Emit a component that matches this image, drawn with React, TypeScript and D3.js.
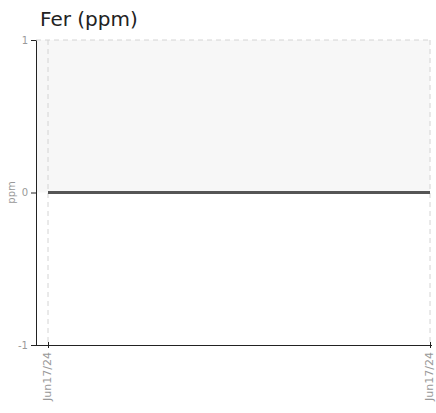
import { useEffect, useRef } from 'react'
import * as d3 from 'd3'

const dates = ['2024-06-17T08:00:00', '2024-06-17T16:00:00']
const values = [0, 0]
const yTicks = [-1, 0, 1]

export default function App() {
  const svgRef = useRef<SVGSVGElement>(null)

  useEffect(() => {
    if (!svgRef.current) return
    const W = 436
    const H = 413
    const margin = { top: 40, right: 4, bottom: 68, left: 36 }
    const svg = d3.select(svgRef.current)
    svg.selectAll('*').remove()
    svg.attr('width', W).attr('height', H)

    const parse = d3.timeParse('%Y-%m-%dT%H:%M:%S')
    const data = dates.map((d, i) => ({ date: parse(d)!, value: values[i] }))

    const x = d3.scaleTime()
      .domain(d3.extent(data, d => d.date) as [Date, Date])
      .range([margin.left + 12, 430])
    const y = d3.scaleLinear()
      .domain([-1, 1])
      .range([H - margin.bottom, margin.top])

    const x0 = margin.left
    const x1 = W - margin.right
    const fmt = d3.timeFormat('%b%d/%y')

    // shaded band above zero
    svg.append('rect')
      .attr('x', x0)
      .attr('y', y(1))
      .attr('width', x(data[1].date) - x0)
      .attr('height', y(0) - y(1))
      .attr('fill', '#f7f7f7')

    // grid
    const grid = svg.append('g')
      .attr('stroke', '#d4d4d4')
      .attr('stroke-dasharray', '5,4')
      .attr('stroke-width', 1)
    grid.append('line')
      .attr('x1', x0).attr('x2', x1)
      .attr('y1', y(1)).attr('y2', y(1))
    data.forEach(d => {
      grid.append('line')
        .attr('x1', x(d.date)).attr('x2', x(d.date))
        .attr('y1', y(1)).attr('y2', y(-1))
    })

    // line
    const line = d3.line<{ date: Date; value: number }>()
      .x(d => x(d.date))
      .y(d => y(d.value))
    svg.append('path')
      .datum(data)
      .attr('d', line)
      .attr('fill', 'none')
      .attr('stroke', '#555')
      .attr('stroke-width', 3)

    // y axis
    const yAxis = svg.append('g')
      .attr('transform', `translate(${x0},0)`)
      .call(d3.axisLeft(y).tickValues(yTicks).tickSize(5).tickSizeOuter(0).tickFormat(d => String(d)))
    yAxis.select('.domain').attr('stroke', '#222')
    yAxis.selectAll('.tick line').attr('stroke', '#222')
    yAxis.selectAll('text')
      .attr('fill', '#999')
      .attr('font-size', 10)
      .attr('font-family', 'DejaVu Sans')

    // x axis
    const xAxis = svg.append('g')
      .attr('transform', `translate(0,${y(-1)})`)
      .call(d3.axisBottom(x).tickValues(data.map(d => d.date)).tickSize(5).tickSizeOuter(0).tickFormat(d => fmt(d as Date)))
    xAxis.select('.domain')
      .attr('d', `M${x0},0.5H${x1}`)
      .attr('stroke', '#222')
    xAxis.selectAll('.tick line').attr('stroke', '#222').attr('y1', -3).attr('y2', 3)
    xAxis.selectAll('text')
      .attr('transform', 'rotate(-90)')
      .attr('text-anchor', 'end')
      .attr('x', -7)
      .attr('y', -1)
      .attr('dy', '0.35em')
      .attr('fill', '#999')
      .attr('font-size', 11)
      .attr('font-family', 'DejaVu Sans')

    // y label
    svg.append('text')
      .attr('transform', `translate(15,${y(0)}) rotate(-90)`)
      .attr('text-anchor', 'middle')
      .attr('fill', '#999')
      .attr('font-size', 10)
      .attr('font-family', 'DejaVu Sans')
      .text('ppm')

    // title
    svg.append('text')
      .attr('x', 40)
      .attr('y', 26)
      .attr('fill', '#222')
      .attr('font-size', 20)
      .attr('font-family', 'DejaVu Sans')
      .text('Fer (ppm)')
  }, [])

  return (
    <svg ref={svgRef} style={{ position: 'absolute', left: 0, top: 0 }}></svg>
  )
}
